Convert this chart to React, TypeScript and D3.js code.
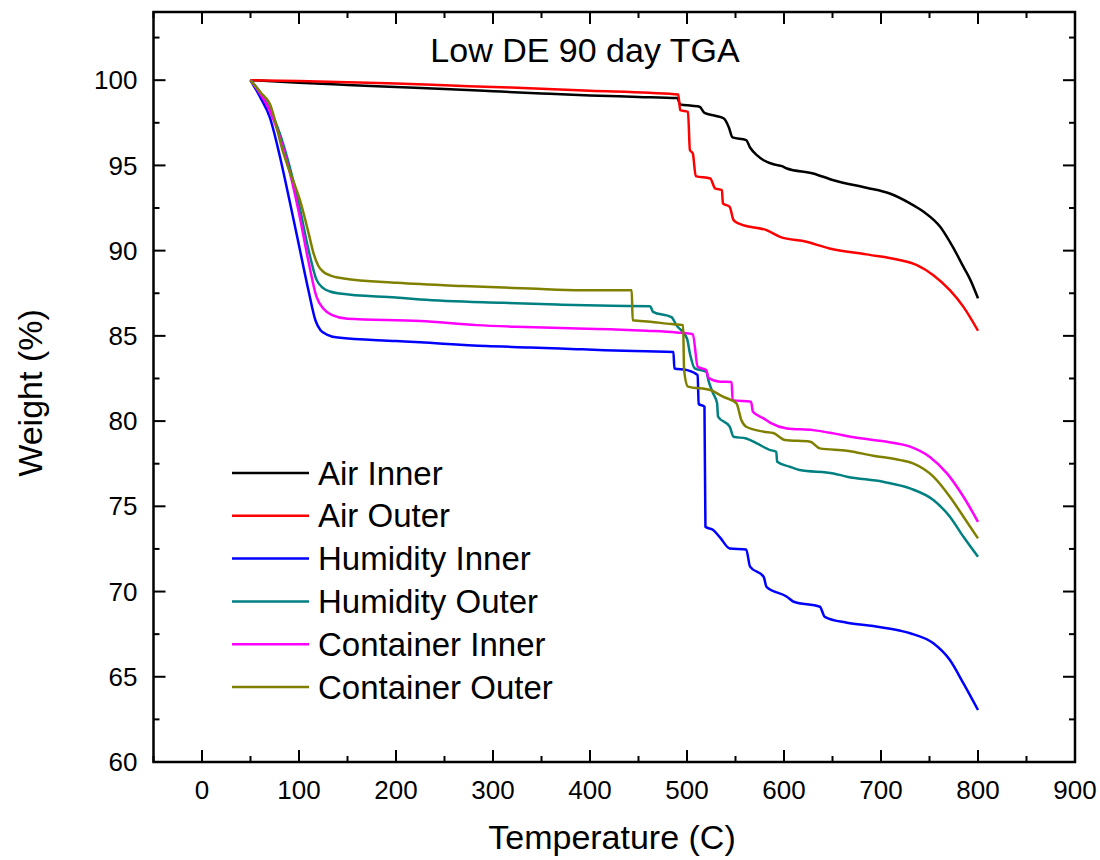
import React from 'react'
import { scaleLinear, line, range, curveMonotoneX } from 'd3'

// Temperature (C) vs weight (%) readings, [temp, weight]
const airInner = [
  [50, 100], [100, 99.85], [150, 99.72], [200, 99.6], [250, 99.48], [300, 99.35], [350, 99.22],
  [400, 99.1], [450, 99.02], [490, 98.95], [493, 98.57], [505, 98.5], [513, 98.44], [518, 98.08],
  [530, 97.9], [538, 97.75], [543, 97.26], [547, 96.64], [561, 96.48], [565, 96.05], [572, 95.6],
  [579, 95.3], [590, 95.05], [598, 94.96], [603, 94.82], [630, 94.53], [651, 94.13], [685, 93.69],
  [709, 93.35], [730, 92.77], [744, 92.28], [761, 91.4], [774, 90.22], [785, 89.05], [792, 88.3],
  [800, 87.2],
]
const airOuter = [
  [50, 100], [100, 99.95], [150, 99.88], [200, 99.8], [250, 99.7], [300, 99.6], [350, 99.5],
  [400, 99.38], [461, 99.26], [491, 99.16], [493, 98.24], [501, 98.14], [503, 95.9], [506, 95.7],
  [509, 94.37], [524, 94.23], [529, 93.65], [536, 93.55], [537, 92.77], [544, 92.57], [548, 91.79],
  [555, 91.55], [582, 91.2], [596, 90.81], [623, 90.52], [647, 90.13], [685, 89.78], [720, 89.44],
  [737, 89.15], [754, 88.56], [771, 87.68], [785, 86.7], [800, 85.3],
]
const humidityInner = [
  [50, 100], [60, 99.0], [70, 97.8], [80, 95.6], [90, 93.0], [100, 90.3], [110, 87.6], [117, 85.9],
  [122, 85.35], [130, 85.05], [140, 84.9], [200, 84.7], [225, 84.62], [293, 84.4], [338, 84.32],
  [386, 84.22], [415, 84.16], [458, 84.1], [486, 84.06], [487, 83.09], [500, 82.99], [511, 82.7],
  [512, 81.0], [518, 80.85], [519, 73.8], [527, 73.61], [534, 73.18], [544, 72.53], [561, 72.47],
  [565, 71.46], [579, 70.87], [582, 70.28], [603, 69.7], [610, 69.4], [637, 69.11], [642, 68.52],
  [665, 68.17], [692, 67.98], [720, 67.7], [730, 67.55], [754, 66.96], [771, 65.98], [785, 64.61],
  [800, 63.05],
]
const humidityOuter = [
  [50, 100], [60, 99.3], [70, 98.3], [80, 96.9], [90, 95.0], [100, 92.7], [110, 90.0], [118, 88.3],
  [125, 87.8], [132, 87.6], [142, 87.49], [200, 87.25], [225, 87.14], [310, 86.94], [366, 86.84],
  [422, 86.76], [462, 86.74], [465, 86.41], [484, 86.1], [489, 85.63], [500, 84.85], [503, 83.97],
  [508, 83.09], [520, 82.89], [522, 82.4], [527, 81.62], [531, 81.04], [532, 80.26], [544, 79.67],
  [548, 79.08], [561, 78.98], [572, 78.69], [586, 78.3], [592, 78.2], [593, 77.61], [606, 77.32],
  [616, 77.13], [651, 76.93], [665, 76.74], [702, 76.44], [730, 76.05], [754, 75.37], [771, 74.39],
  [785, 73.21], [800, 72.04],
]
const containerInner = [
  [50, 100], [60, 99.2], [70, 98.2], [80, 96.7], [90, 94.7], [100, 92.2], [110, 89.3], [118, 87.3],
  [125, 86.6], [135, 86.2], [150, 86.0], [225, 85.87], [283, 85.63], [324, 85.53], [379, 85.44],
  [426, 85.38], [458, 85.3], [489, 85.2], [506, 85.1], [511, 83.19], [520, 82.99], [522, 82.54],
  [534, 82.31], [546, 82.3], [547, 81.23], [566, 81.14], [568, 80.55], [579, 80.16], [586, 79.9],
  [603, 79.57], [630, 79.47], [651, 79.28], [672, 79.05], [706, 78.79], [730, 78.5], [750, 77.91],
  [768, 76.93], [785, 75.56], [800, 74.09],
]
const containerOuter = [
  [50, 100], [60, 99.3], [70, 98.6], [84, 95.7], [90, 94.7], [101, 92.96], [110, 91.0], [115, 89.84],
  [120, 89.1], [125, 88.76], [132, 88.55], [146, 88.37], [201, 88.11], [269, 87.92], [338, 87.78],
  [391, 87.68], [443, 87.68], [444, 85.92], [462, 85.83], [484, 85.69], [496, 85.63], [497, 82.99],
  [501, 82.02], [524, 81.82], [537, 81.43], [551, 81.04], [556, 80.06], [561, 79.67], [579, 79.38],
  [589, 79.3], [601, 78.89], [627, 78.79], [637, 78.4], [665, 78.26], [692, 77.97], [720, 77.71],
  [733, 77.52], [754, 76.74], [771, 75.56], [785, 74.39], [800, 73.12],
]

const seriesNames = ['Air Inner', 'Air Outer', 'Humidity Inner', 'Humidity Outer', 'Container Inner', 'Container Outer']
const seriesColors = ['#000000', '#ff0000', '#0000ff', '#008080', '#ff00ff', '#808000']
const seriesData = [airInner, airOuter, humidityInner, humidityOuter, containerInner, containerOuter]

const xTicks = [0, 100, 200, 300, 400, 500, 600, 700, 800, 900]
const yTicks = [60, 65, 70, 75, 80, 85, 90, 95, 100]

// Layout
const W = 1100
const H = 860
const left = 153.5
const right = 1075
const top = 12
const bottom = 762
const font = '"Liberation Sans", Arial, sans-serif'

const App = () => {
  const x = scaleLinear().domain([-50, 900]).range([left, right])
  const y = scaleLinear().domain([60, 104]).range([bottom, top])

  const path = line<number[]>()
    .x((d) => x(d[0]))
    .y((d) => y(d[1]))
    .curve(curveMonotoneX)

  const xMinor = range(-50, 901, 50).filter((v) => v % 100 !== 0)
  const yMinor = range(62.5, 104, 5)

  return (
    <svg width={W} height={H} style={{ position: 'absolute', left: 0, top: 0, background: '#fff' }}>
      <defs>
        <clipPath id="plot">
          <rect x={left} y={top} width={right - left} height={bottom - top} />
        </clipPath>
      </defs>
      <rect width={W} height={H} fill="#fff" />

      {/* Ticks, inward on all four sides */}
      <g stroke="#000" strokeWidth={2}>
        {xTicks.map((t) => (
          <g key={'xt' + t}>
            <line x1={x(t)} x2={x(t)} y1={bottom} y2={bottom - 12} />
            <line x1={x(t)} x2={x(t)} y1={top} y2={top + 12} />
          </g>
        ))}
        {xMinor.map((t) => (
          <g key={'xm' + t}>
            <line x1={x(t)} x2={x(t)} y1={bottom} y2={bottom - 6} />
            <line x1={x(t)} x2={x(t)} y1={top} y2={top + 6} />
          </g>
        ))}
        {yTicks.map((t) => (
          <g key={'yt' + t}>
            <line x1={left} x2={left + 12} y1={y(t)} y2={y(t)} />
            <line x1={right} x2={right - 12} y1={y(t)} y2={y(t)} />
          </g>
        ))}
        {yMinor.map((t) => (
          <g key={'ym' + t}>
            <line x1={left} x2={left + 6} y1={y(t)} y2={y(t)} />
            <line x1={right} x2={right - 6} y1={y(t)} y2={y(t)} />
          </g>
        ))}
      </g>

      {/* Tick labels */}
      <g fontFamily={font} fontSize={26} fill="#000">
        {xTicks.map((t) => (
          <text key={'xl' + t} x={x(t)} y={bottom + 37} textAnchor="middle">{t}</text>
        ))}
        {yTicks.map((t) => (
          <text key={'yl' + t} x={left - 16} y={y(t)} dy="0.35em" textAnchor="end">{t}</text>
        ))}
      </g>

      {/* Series */}
      <g clipPath="url(#plot)" fill="none" strokeWidth={2.5} strokeLinejoin="round">
        {seriesData.map((d, i) => (
          <path key={seriesNames[i]} d={path(d as any) || ''} stroke={seriesColors[i]} />
        ))}
      </g>

      {/* Frame */}
      <rect x={left} y={top} width={right - left} height={bottom - top} fill="none" stroke="#000" strokeWidth={2.5} />

      {/* Legend */}
      <g fontFamily={font} fontSize={33} fill="#000">
        {seriesNames.map((name, i) => (
          <g key={'lg' + name} transform={`translate(0, ${473 + i * 42.8})`}>
            <line x1={232} x2={309} y1={0} y2={0} stroke={seriesColors[i]} strokeWidth={2.5} />
            <text x={318} y={0} dy="0.35em">{name}</text>
          </g>
        ))}
      </g>

      {/* Titles */}
      <text x={585} y={62} textAnchor="middle" fontFamily={font} fontSize={34}>Low DE 90 day TGA</text>
      <text x={612} y={849} textAnchor="middle" fontFamily={font} fontSize={34}>Temperature (C)</text>
      <text transform={`translate(42, 393) rotate(-90)`} textAnchor="middle" fontFamily={font} fontSize={34}>Weight (%)</text>
    </svg>
  )
}

export default App
